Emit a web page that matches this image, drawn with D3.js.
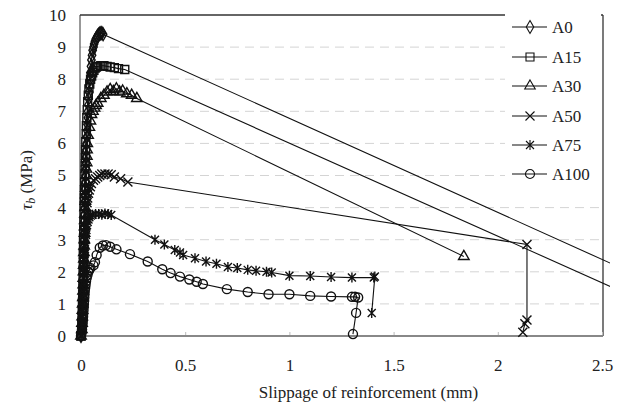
<!DOCTYPE html>
<html><head><meta charset="utf-8">
<script src="https://cdn.jsdelivr.net/npm/d3@7"></script>
<style>body{margin:0;background:#fff}svg{display:block}</style>
</head><body><svg id="c" width="628" height="407" font-family="'Liberation Serif','Times New Roman','DejaVu Serif',serif"></svg>
<script>
const seriesNames = ["A0","A15","A30","A50","A75","A100"];
const xTicks = [0,0.5,1,1.5,2,2.5];
const xTickLabels = ["0","0.5","1","1.5","2","2.5"];
const yTicks = [0,1,2,3,4,5,6,7,8,9,10];
const A0 = [[0,0],[0.002,0.15],[0.003,0.3],[0.004,0.45],[0.005,0.6],[0.006,0.8],[0.007,1.0],[0.008,1.2],[0.008,1.4],[0.009,1.6],[0.01,1.8],[0.011,2.0],[0.011,2.2],[0.012,2.4],[0.013,2.6],[0.014,2.8],[0.014,3.0],[0.015,3.2],[0.016,3.4],[0.017,3.6],[0.017,3.8],[0.018,4.0],[0.019,4.2],[0.02,4.4],[0.02,4.6],[0.021,4.8],[0.022,5.0],[0.023,5.2],[0.024,5.4],[0.025,5.6],[0.026,5.8],[0.027,6.0],[0.028,6.2],[0.03,6.4],[0.031,6.6],[0.033,6.8],[0.034,7.0],[0.036,7.2],[0.037,7.4],[0.039,7.6],[0.041,7.8],[0.043,8.0],[0.045,8.2],[0.048,8.4],[0.05,8.6],[0.053,8.75],[0.056,8.9],[0.06,9.0],[0.063,9.1],[0.067,9.18],[0.071,9.25],[0.076,9.3],[0.08,9.35],[0.085,9.39],[0.09,9.42],[0.095,9.43],[0.1,9.44],[0.106,9.4],[2.7,1.8]];
const A15 = [[0,0],[0.003,0.2],[0.004,0.4],[0.005,0.6],[0.006,0.8],[0.007,1.05],[0.008,1.3],[0.009,1.55],[0.01,1.8],[0.01,2.05],[0.011,2.3],[0.011,2.55],[0.012,2.8],[0.012,3.05],[0.013,3.3],[0.014,3.55],[0.015,3.8],[0.015,4.05],[0.016,4.3],[0.017,4.55],[0.018,4.8],[0.019,5.05],[0.02,5.3],[0.021,5.55],[0.022,5.8],[0.023,6.05],[0.025,6.3],[0.026,6.55],[0.028,6.8],[0.03,7.05],[0.032,7.3],[0.035,7.5],[0.038,7.7],[0.042,7.85],[0.046,8.0],[0.051,8.1],[0.056,8.2],[0.062,8.28],[0.068,8.35],[0.074,8.38],[0.08,8.4],[0.095,8.42],[0.11,8.42],[0.125,8.4],[0.14,8.38],[0.16,8.36],[0.18,8.33],[0.21,8.3],[2.7,1.08]];
const A30 = [[0,0],[0.004,0.2],[0.005,0.4],[0.006,0.6],[0.007,0.8],[0.008,1.0],[0.009,1.2],[0.01,1.4],[0.011,1.6],[0.011,1.8],[0.012,2.0],[0.013,2.2],[0.014,2.4],[0.014,2.6],[0.015,2.8],[0.016,3.0],[0.017,3.2],[0.017,3.4],[0.018,3.6],[0.019,3.8],[0.02,4.0],[0.021,4.2],[0.022,4.4],[0.023,4.6],[0.024,4.8],[0.025,5.0],[0.026,5.2],[0.027,5.4],[0.028,5.6],[0.029,5.8],[0.03,6.0],[0.034,6.25],[0.04,6.5],[0.045,6.7],[0.05,6.9],[0.057,7.0],[0.065,7.1],[0.072,7.18],[0.08,7.25],[0.095,7.4],[0.11,7.5],[0.125,7.6],[0.14,7.68],[0.155,7.62],[0.17,7.7],[0.185,7.6],[0.2,7.63],[0.22,7.55],[0.243,7.5],[0.268,7.4],[1.837,2.48]];
const A50 = [[0,0],[0.003,0.2],[0.004,0.4],[0.005,0.6],[0.006,0.8],[0.007,1.0],[0.008,1.2],[0.009,1.4],[0.01,1.6],[0.011,1.8],[0.012,2.0],[0.013,2.2],[0.014,2.4],[0.015,2.6],[0.016,2.8],[0.018,3.0],[0.019,3.2],[0.02,3.4],[0.022,3.6],[0.024,3.8],[0.026,4.0],[0.029,4.15],[0.032,4.3],[0.036,4.45],[0.04,4.55],[0.045,4.65],[0.05,4.75],[0.06,4.85],[0.07,4.9],[0.08,4.95],[0.09,5.0],[0.1,5.05],[0.115,5.05],[0.13,5.05],[0.145,5.02],[0.16,4.95],[0.19,4.9],[0.225,4.8],[2.14,2.85],[2.14,0.5],[2.13,0.38],[2.12,0.12]];
const A75 = [[0,0],[0.002,0.15],[0.004,0.3],[0.005,0.45],[0.006,0.6],[0.007,0.75],[0.008,0.9],[0.009,1.05],[0.01,1.2],[0.011,1.35],[0.012,1.5],[0.012,1.65],[0.013,1.8],[0.014,1.95],[0.015,2.1],[0.016,2.25],[0.017,2.4],[0.018,2.55],[0.019,2.7],[0.02,2.85],[0.022,3.0],[0.024,3.15],[0.026,3.3],[0.029,3.45],[0.032,3.55],[0.036,3.63],[0.04,3.7],[0.047,3.75],[0.055,3.78],[0.07,3.8],[0.085,3.8],[0.1,3.78],[0.115,3.82],[0.13,3.8],[0.145,3.77],[0.355,3.0],[0.40,2.85],[0.45,2.68],[0.475,2.6],[0.49,2.52],[0.547,2.42],[0.60,2.32],[0.65,2.25],[0.705,2.15],[0.75,2.12],[0.80,2.06],[0.84,2.03],[0.89,2.0],[0.915,1.98],[1.0,1.88],[1.1,1.87],[1.2,1.84],[1.3,1.82],[1.405,1.82],[1.41,1.85],[1.395,0.72]];
const A100 = [[0,0],[0.003,0.1],[0.005,0.2],[0.006,0.3],[0.008,0.4],[0.009,0.5],[0.01,0.6],[0.011,0.7],[0.012,0.8],[0.013,0.9],[0.014,1.0],[0.015,1.1],[0.016,1.2],[0.017,1.3],[0.018,1.4],[0.02,1.5],[0.022,1.6],[0.024,1.7],[0.027,1.8],[0.031,1.9],[0.035,2.0],[0.04,2.06],[0.045,2.12],[0.06,2.2],[0.067,2.3],[0.075,2.52],[0.09,2.75],[0.105,2.82],[0.12,2.83],[0.14,2.78],[0.17,2.7],[0.235,2.55],[0.32,2.32],[0.39,2.08],[0.43,1.96],[0.475,1.85],[0.52,1.76],[0.555,1.69],[0.585,1.62],[0.70,1.46],[0.80,1.37],[0.90,1.3],[1.0,1.3],[1.1,1.25],[1.2,1.23],[1.3,1.22],[1.315,1.22],[1.33,1.2],[1.32,0.72],[1.305,0.06]];
const seriesData = [A0,A15,A30,A50,A75,A100];
const markerTypes = ["diamond","square","triangle","x","star","circle"];

const FONT = "'Liberation Serif','Times New Roman','DejaVu Serif',serif";
const svg = d3.select("#c");
const L=80, R=603, T=15, B=336;
const x = d3.scaleLinear().domain([0,2.5]).range([L+1,R-1]);
const y = d3.scaleLinear().domain([0,10]).range([B,T]);

svg.append("g").selectAll("line").data(yTicks.slice(1,10)).join("line")
  .attr("x1",L).attr("x2",R).attr("y1",d=>y(d)).attr("y2",d=>y(d))
  .attr("stroke","#d4d4d4").attr("stroke-width",1).attr("stroke-dasharray","9,6");

svg.append("line").attr("x1",L).attr("x2",L).attr("y1",T).attr("y2",B).attr("stroke","#333").attr("stroke-width",1);
svg.append("line").attr("x1",L).attr("x2",R).attr("y1",T).attr("y2",T).attr("stroke","#333").attr("stroke-width",1.3);
svg.append("line").attr("x1",R).attr("x2",R).attr("y1",T).attr("y2",B).attr("stroke","#333").attr("stroke-width",1.3);

const xa = svg.append("g").attr("transform",`translate(0,${B})`)
  .call(d3.axisBottom(x).tickValues(xTicks).tickSize(-4).tickFormat((d,i)=>xTickLabels[i]).tickPadding(23));
xa.attr("font-family",FONT);
xa.select(".domain").remove();
xa.selectAll(".tick line").attr("stroke","#bbb");
xa.selectAll(".tick text").attr("font-size",17).attr("fill","#222");
svg.append("line").attr("x1",L).attr("x2",R).attr("y1",B).attr("y2",B).attr("stroke","#888").attr("stroke-width",2);

const ya = svg.append("g").attr("transform",`translate(${L},0)`)
  .call(d3.axisLeft(y).tickValues(yTicks).tickSize(0).tickPadding(14));
ya.attr("font-family",FONT);
ya.select(".domain").remove();
ya.selectAll(".tick text").attr("font-size",17).attr("fill","#222");

svg.append("text").attr("x",(L+R)/2+27).attr("y",398).attr("text-anchor","middle").attr("font-size",17).attr("fill","#222").text("Slippage of reinforcement (mm)");
const yt = svg.append("text").attr("transform","translate(32,180) rotate(-90)").attr("text-anchor","middle").attr("font-size",17).attr("fill","#222");
yt.append("tspan").attr("font-style","italic").text("τ");
yt.append("tspan").attr("font-style","italic").attr("font-size",12).attr("dy",3).text("b");
yt.append("tspan").attr("dy",-3).text(" (MPa)");

function markerPath(t){
  if(t==="diamond") return d3.symbol(d3.symbolDiamond,48)();
  if(t==="square") return d3.symbol(d3.symbolSquare,64)();
  if(t==="triangle") return d3.symbol(d3.symbolTriangle,48)();
  if(t==="circle") return d3.symbol(d3.symbolCircle,64)();
  if(t==="x") return "M-4.5,-4.5L4.5,4.5M-4.5,4.5L4.5,-4.5";
  if(t==="star") return "M-4,-4L4,4M-4,4L4,-4M0,-5L0,5";
}

svg.append("defs").append("clipPath").attr("id","clip").append("rect")
  .attr("x",L-8).attr("y",0).attr("width",R-L+15).attr("height",B+8);
const plot = svg.append("g").attr("clip-path","url(#clip)");
const line = d3.line().x(d=>x(d[0])).y(d=>y(d[1]));
seriesData.forEach((data,i)=>{
  const g = plot.append("g");
  g.append("path").datum(data).attr("d",line).attr("fill","none").attr("stroke","#111").attr("stroke-width",1.1);
  g.selectAll("path.m").data(data.filter(d=>d[0]<=2.5)).join("path").attr("class","m")
    .attr("transform",d=>`translate(${x(d[0])},${y(d[1])})`)
    .attr("d",markerPath(markerTypes[i])).attr("fill","none").attr("stroke","#111").attr("stroke-width",1.4);
});

svg.append("rect").attr("x",505).attr("y",T-1).attr("width",96).attr("height",180).attr("fill","#fff");
const legRows = [27,57,86,116,145,174];
seriesNames.forEach((n,i)=>{
  const g = svg.append("g").attr("transform",`translate(0,${legRows[i]})`);
  g.append("line").attr("x1",512).attr("x2",547).attr("y1",0).attr("y2",0).attr("stroke","#111").attr("stroke-width",1.1);
  g.append("path").attr("transform","translate(530,0)").attr("d",markerPath(markerTypes[i])).attr("fill","none").attr("stroke","#111").attr("stroke-width",1.1);
  g.append("text").attr("x",552).attr("y",6).attr("font-size",17).attr("fill","#222").text(n);
});
</script></body></html>
